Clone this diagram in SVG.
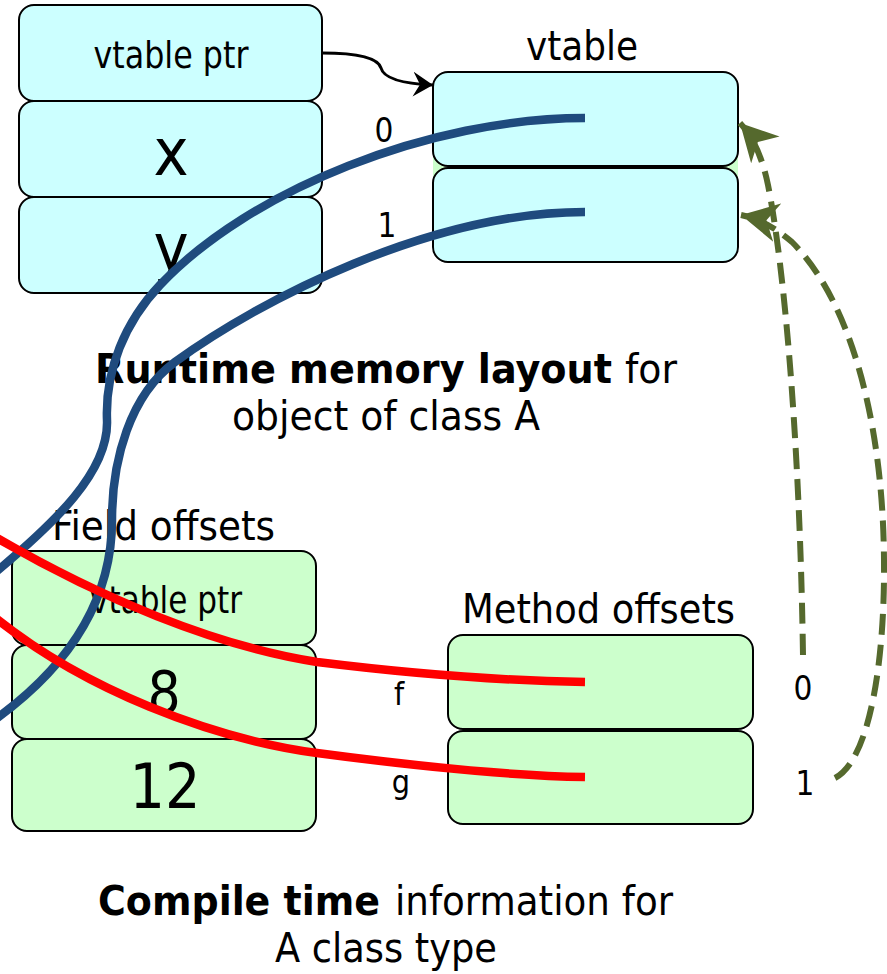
<svg xmlns="http://www.w3.org/2000/svg" width="887" height="974" viewBox="0 0 887 974">
<style>
text{font-family:"DejaVu Sans Condensed","DejaVu Sans","Liberation Sans",sans-serif;fill:#000}
.c{text-anchor:middle}
.b{font-weight:bold}
.cy{fill:#CCFFFF;stroke:#000;stroke-width:2}
.gr{fill:#CCFFCC;stroke:#000;stroke-width:2}
.blue{fill:none;stroke:#1F4B7E;stroke-width:8.5}
.red{fill:none;stroke:#FF0000;stroke-width:8.5}
.dash{fill:none;stroke:#55692D;stroke-width:6;stroke-dasharray:21 10}
</style>
<defs>
<marker id="blk" markerUnits="userSpaceOnUse" markerWidth="22" markerHeight="26" refX="20" refY="12.5" orient="auto" viewBox="0 0 22 26">
<path d="M0,0 L20,12.5 L0,25 L7,12.5 z" fill="#000"/>
</marker>
<marker id="olv" markerUnits="userSpaceOnUse" markerWidth="40" markerHeight="40" refX="37" refY="19.5" orient="auto" viewBox="0 0 40 40">
<path d="M0,0 L37,19.5 L0,39 L11,19.5 z" fill="#55692D"/>
</marker>
</defs>

<g id="object">
<rect class="cy" x="19" y="5" width="303" height="96" rx="15"/>
<rect class="cy" x="19" y="101" width="303" height="96" rx="15"/>
<rect class="cy" x="19" y="197" width="303" height="96" rx="15"/>
<text class="c" x="171" y="68" font-size="38" textLength="155" lengthAdjust="spacingAndGlyphs">vtable ptr</text>
<text class="c" x="171" y="175" font-size="66">x</text>
<text class="c" x="171" y="270" font-size="66">y</text>
</g>

<g id="vtable">
<text class="c" x="582" y="60" font-size="40" textLength="112" lengthAdjust="spacingAndGlyphs">vtable</text>
<rect x="433" y="150" width="305" height="30" fill="#CCFFCC"/>
<rect class="cy" x="433" y="72" width="305" height="94" rx="15"/>
<rect class="cy" x="433" y="168" width="305" height="94" rx="15"/>
<text class="c" x="384" y="142" font-size="33">0</text>
<text class="c" x="387" y="237" font-size="33">1</text>
</g>

<g id="runtime-caption">
<text y="383" font-size="41"><tspan class="b" x="95" textLength="517" lengthAdjust="spacingAndGlyphs">Runtime memory layout</tspan><tspan x="625" textLength="52" lengthAdjust="spacingAndGlyphs">for</tspan></text>
<text class="c" x="386" y="430" font-size="41" textLength="308" lengthAdjust="spacingAndGlyphs">object of class A</text>
</g>

<g id="field-offsets">
<text x="52" y="540" font-size="41" textLength="223" lengthAdjust="spacingAndGlyphs">Field offsets</text>
<rect class="gr" x="12" y="551" width="304" height="94" rx="15"/>
<rect class="gr" x="12" y="645" width="304" height="94" rx="15"/>
<rect class="gr" x="12" y="739" width="304" height="92" rx="15"/>
<text class="c" x="166" y="613" font-size="38" textLength="152" lengthAdjust="spacingAndGlyphs">vtable ptr</text>
<text class="c" x="164" y="713" font-size="58">8</text>
<text class="c" x="165" y="808" font-size="62">12</text>
<text class="c" x="399" y="705" font-size="32">f</text>
<text class="c" x="401" y="793" font-size="32">g</text>
</g>

<g id="method-offsets">
<text x="462" y="623" font-size="41" textLength="273" lengthAdjust="spacingAndGlyphs">Method offsets</text>
<rect class="gr" x="448" y="635" width="305" height="94" rx="15"/>
<rect class="gr" x="448" y="731" width="305" height="93" rx="15"/>
<text class="c" x="803" y="700" font-size="33">0</text>
<text class="c" x="805" y="795" font-size="33">1</text>
</g>

<g id="compile-caption">
<text y="915" font-size="41"><tspan class="b" x="98" textLength="282" lengthAdjust="spacingAndGlyphs">Compile time</tspan><tspan x="395" textLength="278" lengthAdjust="spacingAndGlyphs">information for</tspan></text>
<text class="c" x="386" y="962" font-size="41" textLength="222" lengthAdjust="spacingAndGlyphs">A class type</text>
</g>

<g id="connectors">
<path class="blue" d="M585,118 C430,118 250,190 160,285 C125,322 105,370 107,420 C109,470 60,520 -20,585"/>
<path class="blue" d="M585,212 C430,212 260,300 175,362 C130,395 112,460 112,520 C112,600 70,670 -20,730"/>
<path class="red" d="M585,682 C520,681 430,676 317,662 C220,647 100,600 -20,528"/>
<path class="red" d="M585,777 C520,776 430,768 317,753 C220,740 80,692 -20,605"/>
<path d="M322,53 C360,53 378,58 381,68 C384,80 410,84 433,85" fill="none" stroke="#000" stroke-width="3" marker-end="url(#blk)"/>
<path class="dash" d="M803,655 C800,450 785,270 768,185 C764,165 756,140 740,123" marker-end="url(#olv)"/>
<path class="dash" d="M835,778 C870,760 885,660 884,560 C883,420 850,300 792,242 C777,229 760,219 741,215" marker-end="url(#olv)"/>
</g>
</svg>
